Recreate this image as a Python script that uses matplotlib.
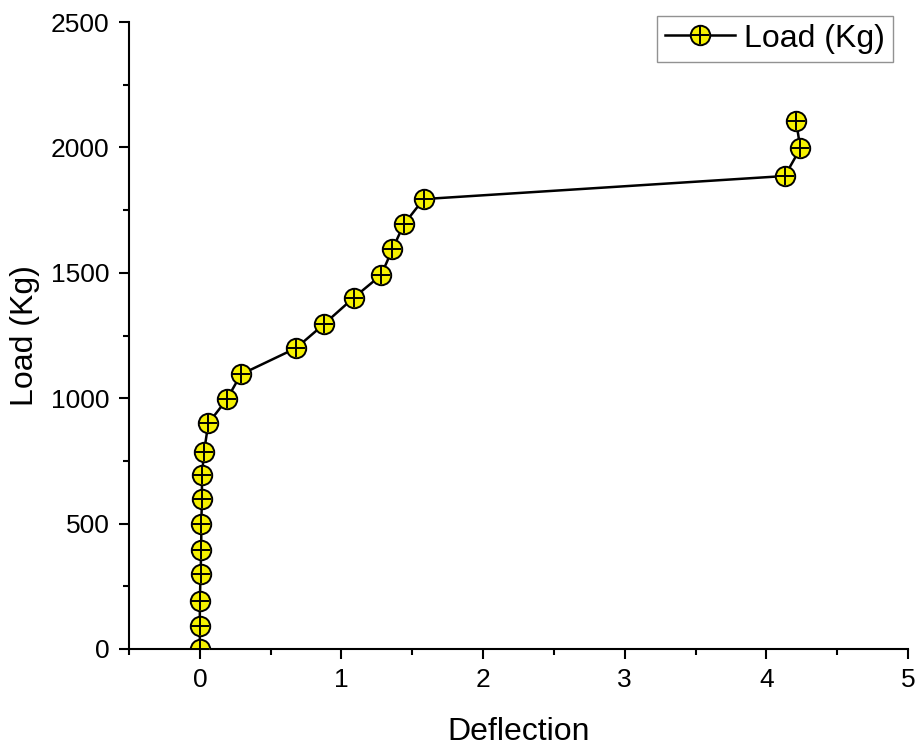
import numpy as np
import matplotlib
matplotlib.use("Agg")
import matplotlib.pyplot as plt
from matplotlib.legend_handler import HandlerTuple

# load-deflection readings
deflection = [0.0, 0.0, 0.0, 0.005, 0.01, 0.01, 0.015, 0.015, 0.03, 0.06,
              0.19, 0.29, 0.68, 0.88, 1.085, 1.28, 1.36, 1.44, 1.58,
              4.13, 4.24, 4.21]
load = [0, 90, 190, 300, 395, 497, 598, 694, 787, 900,
        995, 1095, 1200, 1297, 1400, 1491, 1594, 1693, 1794,
        1886, 1996, 2106]

x_ticks = [0, 1, 2, 3, 4, 5]
y_ticks = [0, 500, 1000, 1500, 2000, 2500]

plt.rcParams['font.family'] = ['Liberation Sans', 'DejaVu Sans']

fig = plt.figure(figsize=(9.19, 7.47), dpi=100)
ax = fig.add_axes([0.1404, 0.1312, 0.8476, 0.8393])

line, = ax.plot(deflection, load, color='black', lw=1.8, marker='o',
                markersize=14, markerfacecolor='#f5f000',
                markeredgecolor='black', markeredgewidth=1.4, zorder=3)
cross, = ax.plot(deflection, load, ls='none', marker='+', markersize=13,
                 markeredgecolor='black', markeredgewidth=1.4, zorder=4)

ax.set_xlim(-0.5, 5)
ax.set_ylim(0, 2500)
ax.set_xticks(x_ticks)
ax.set_yticks(y_ticks)
ax.set_xticks(np.arange(-0.5, 5.01, 0.5), minor=True)
ax.set_yticks(np.arange(0, 2501, 250), minor=True)

for side in ['top', 'right']:
    ax.spines[side].set_visible(False)
for side in ['left', 'bottom']:
    ax.spines[side].set_linewidth(1.5)

ax.tick_params(which='major', direction='out', length=7, width=1.5, pad=7)
ax.tick_params(which='minor', direction='out', length=4, width=1.5)
for lab in ax.get_xticklabels() + ax.get_yticklabels():
    lab.set_fontsize(19)

ax.set_xlabel('Deflection', fontsize=23, labelpad=18)
ax.set_ylabel('Load (Kg)', fontsize=23, labelpad=8)

leg = ax.legend([(line, cross)], ['Load (Kg)'], fontsize=23,
                handler_map={tuple: HandlerTuple(ndivide=1, pad=0)},
                loc='upper right', bbox_to_anchor=(0.972, 0.979),
                bbox_transform=fig.transFigure, fancybox=False,
                handlelength=2.2, handletextpad=0.3, borderpad=0.25,
                borderaxespad=0)
leg.get_frame().set_edgecolor('#777777')
leg.get_frame().set_linewidth(1.0)

fig.savefig('out.png', dpi=100)
